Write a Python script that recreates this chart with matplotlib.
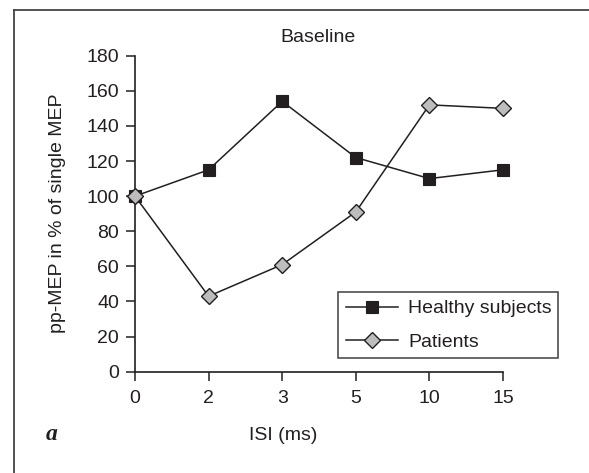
import matplotlib
matplotlib.use("Agg")
import matplotlib.pyplot as plt
from matplotlib.lines import Line2D

isi_labels = ["0", "2", "3", "5", "10", "15"]
healthy = [100, 115, 154, 122, 110, 115]
patients = [100, 43, 61, 91, 152, 150]
yticks = [0, 20, 40, 60, 80, 100, 120, 140, 160, 180]

W, H = 589, 473
DPI = 100
ink = "#231f20"
FS = 14
plt.rcParams['font.family'] = ['Liberation Sans', 'DejaVu Sans']

fig = plt.figure(figsize=(W / DPI, H / DPI), dpi=DPI)

def fx(px):
    return px / W

def fy(py):
    return 1 - py / H

# outer frame (top and left only visible)
fig.add_artist(Line2D([fx(13.5), fx(13.5)], [fy(10), 0], transform=fig.transFigure, color="#444444", lw=1.3))
fig.add_artist(Line2D([fx(13.5), 1], [fy(10), fy(10)], transform=fig.transFigure, color="#444444", lw=1.3))

ax = fig.add_axes([fx(135), fy(371.7), fx(503) - fx(135), fy(55.7) - fy(371.7)])
x = list(range(len(isi_labels)))
ax.plot(x, healthy, color=ink, lw=1.1, marker="s", ms=8.5, mfc=ink, mec=ink, mew=0.8,
        label="Healthy subjects", zorder=3, clip_on=False)
ax.plot(x, patients, color=ink, lw=1.1, marker="D", ms=7.8, mfc="#bdbdbd", mec=ink, mew=1.0,
        label="Patients", zorder=3, clip_on=False)

ax.set_xlim(0, len(isi_labels) - 1)
ax.set_ylim(0, 180)
ax.set_xticks(x)
ax.set_xticklabels(isi_labels)
ax.set_yticks(yticks)
for s in ["top", "right"]:
    ax.spines[s].set_visible(False)
for s in ["left", "bottom"]:
    ax.spines[s].set_color(ink)
    ax.spines[s].set_linewidth(1.2)
ax.tick_params(direction="out", length=6.5, width=1.1, color=ink, labelcolor=ink, labelsize=FS, pad=5)
ax.tick_params(axis="x", pad=7)

leg = ax.legend(loc="lower left", bbox_to_anchor=(0.552, 0.042, 0.597, 0.209), mode="expand",
                frameon=True, fancybox=False, fontsize=FS, handlelength=2.7, borderaxespad=0,
                labelspacing=0.8, handletextpad=0.5, borderpad=0.4)
leg.get_frame().set_edgecolor(ink)
leg.get_frame().set_linewidth(1.2)
for t in leg.get_texts():
    t.set_color(ink)

fig.text(fx(318), fy(37), "Baseline", ha="center", va="center", fontsize=FS, color=ink)
fig.text(fx(57), fy(213), "pp-MEP in % of single MEP", rotation=90, ha="center", va="center",
         fontsize=FS, color=ink)
fig.text(fx(283), fy(435), "ISI (ms)", ha="center", va="center", fontsize=FS, color=ink)
fig.text(fx(52), fy(434), "a", ha="center", va="center", fontsize=17, color=ink,
         family=["Liberation Serif", "DejaVu Serif"], weight="bold", style="italic")

fig.savefig("out.png", dpi=DPI)
